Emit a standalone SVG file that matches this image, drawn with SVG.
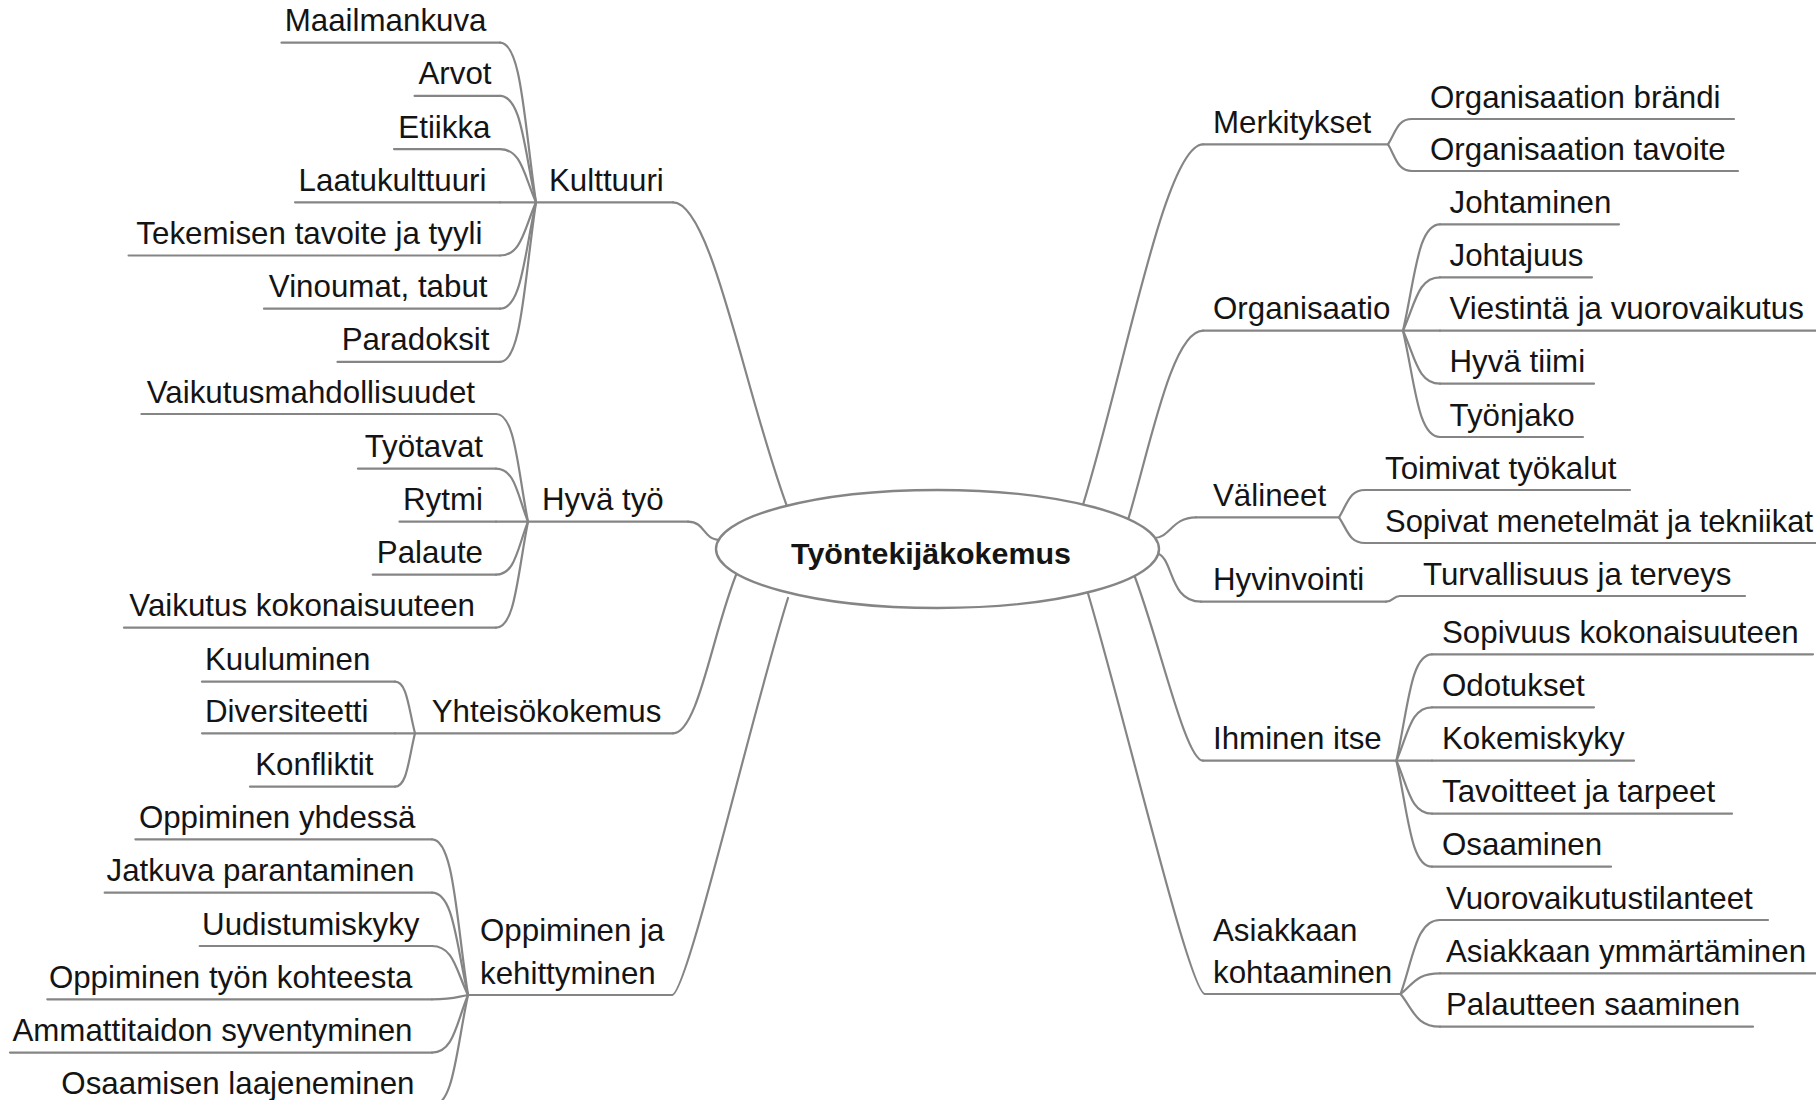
<svg xmlns="http://www.w3.org/2000/svg" width="1816" height="1100" viewBox="0 0 1816 1100">
<style>
.t{font-family:"Liberation Sans",Arial,sans-serif;font-size:31.3px;fill:#141414}
.e{text-anchor:end}
.b{font-weight:bold;font-size:30.4px;text-anchor:middle}
.c,.u{fill:none;stroke:#858585;stroke-width:2.2;stroke-linecap:round}
</style>
<rect width="1816" height="1100" fill="#ffffff"/>
<g id="connectors">
<path class="c" d="M788,509 C745,395 712,202.3 673,202.3"/>
<path class="c" d="M721,540 C702,540 706,521.7 688,521.7"/>
<path class="c" d="M738,570 C713,629 698.5,733.3 673,733.3"/>
<path class="c" d="M788,598 C750,720 687,995 672,995"/>
<path class="c" d="M1082,508 C1125,370 1165,144.3 1203,144.3"/>
<path class="c" d="M1128,520 C1150,447 1172,330.7 1203,330.7"/>
<path class="c" d="M1154,538 C1170,538 1172,517.3 1196,517.3"/>
<path class="c" d="M1156,553 C1174,556 1168,601.7 1201,601.7"/>
<path class="c" d="M1133,572 C1158,635 1185,760.7 1203,760.7"/>
<path class="c" d="M1087,590 C1125.7,720 1189.7,994 1205,994"/>
<path class="c" d="M536,202.3 C524.1,122.5 521.6,42.7 500,42.7"/>
<path class="c" d="M536,202.3 C524.1,149.1 521.6,95.9 500,95.9"/>
<path class="c" d="M536,202.3 C524.1,175.7 521.6,149.1 500,149.1"/>
<path class="c" d="M536,202.3 L500,202.3"/>
<path class="c" d="M536,202.3 C524.1,228.9 521.6,255.5 500,255.5"/>
<path class="c" d="M536,202.3 C524.1,255.5 521.6,308.7 500,308.7"/>
<path class="c" d="M536,202.3 C524.1,282.1 521.6,361.9 500,361.9"/>
<path class="c" d="M528,521.7 C517.4,467.9 515.2,414 496,414"/>
<path class="c" d="M528,521.7 C517.4,495.2 515.2,468.7 496,468.7"/>
<path class="c" d="M528,521.7 L496,521.7"/>
<path class="c" d="M528,521.7 C517.4,548.2 515.2,574.7 496,574.7"/>
<path class="c" d="M528,521.7 C517.4,574.7 515.2,627.7 496,627.7"/>
<path class="c" d="M415,733.3 C408.4,707.5 407,681.7 395,681.7"/>
<path class="c" d="M415,733.3 L395,733.3"/>
<path class="c" d="M415,733.3 C408.4,760 407,786.7 395,786.7"/>
<path class="c" d="M468,995 C456.1,917.2 453.6,839.3 432,839.3"/>
<path class="c" d="M468,995 C456.1,943.9 453.6,892.7 432,892.7"/>
<path class="c" d="M468,995 C456.1,970.5 453.6,946 432,946"/>
<path class="c" d="M468,995 C456.1,997 453.6,999.3 432,999.3"/>
<path class="c" d="M468,995 C456.1,1023.8 453.6,1052.6 432,1052.6"/>
<path class="c" d="M468,995 C456.1,1050.5 453.6,1105.9 432,1105.9"/>
<path class="c" d="M1388,144.3 C1395.9,131.7 1397.6,119 1412,119"/>
<path class="c" d="M1388,144.3 C1395.9,157.7 1397.6,171 1412,171"/>
<path class="c" d="M1403,330.7 C1415.2,277.5 1417.8,224.3 1440,224.3"/>
<path class="c" d="M1403,330.7 C1415.2,304 1417.8,277.3 1440,277.3"/>
<path class="c" d="M1403,330.7 L1440,330.7"/>
<path class="c" d="M1403,330.7 C1415.2,357.2 1417.8,383.7 1440,383.7"/>
<path class="c" d="M1403,330.7 C1415.2,383.9 1417.8,437 1440,437"/>
<path class="c" d="M1339,517.3 C1347.6,503.7 1349.4,490 1365,490"/>
<path class="c" d="M1339,517.3 C1347.6,530.2 1349.4,543 1365,543"/>
<path class="c" d="M1386,601.7 C1393,601.7 1393,596 1400,596"/>
<path class="c" d="M1396.4,760.7 C1408.2,707.5 1410.6,654.3 1432,654.3"/>
<path class="c" d="M1396.4,760.7 C1408.2,734 1410.6,707.3 1432,707.3"/>
<path class="c" d="M1396.4,760.7 L1432,760.7"/>
<path class="c" d="M1396.4,760.7 C1408.2,787.2 1410.6,813.7 1432,813.7"/>
<path class="c" d="M1396.4,760.7 C1408.2,813.7 1410.6,866.7 1432,866.7"/>
<path class="c" d="M1400.6,994 C1413.6,957 1416.4,920 1440,920"/>
<path class="c" d="M1400.6,994 C1413.6,983.7 1416.4,973.3 1440,973.3"/>
<path class="c" d="M1400.6,994 C1413.6,1010.4 1416.4,1026.7 1440,1026.7"/>
</g>
<g id="center">
<ellipse cx="937.5" cy="549" rx="221.5" ry="59" fill="#ffffff" stroke="#858585" stroke-width="2.4"/>
<text class="t b" x="931" y="564">Työntekijäkokemus</text>
</g>
<g id="kulttuuri"><line class="u" x1="536" y1="202.3" x2="673" y2="202.3"/><text class="t" x="549" y="190.8">Kulttuuri</text></g>
<g id="maailmankuva"><line class="u" x1="281.5" y1="42.7" x2="500" y2="42.7"/><text class="t e" x="486.5" y="31.2">Maailmankuva</text></g>
<g id="arvot"><line class="u" x1="414.6" y1="95.9" x2="500" y2="95.9"/><text class="t e" x="491.5" y="84.4">Arvot</text></g>
<g id="etiikka"><line class="u" x1="394" y1="149.1" x2="500" y2="149.1"/><text class="t e" x="490.5" y="137.6">Etiikka</text></g>
<g id="laatukulttuuri"><line class="u" x1="295" y1="202.3" x2="500" y2="202.3"/><text class="t e" x="486.5" y="190.8">Laatukulttuuri</text></g>
<g id="tekemisen"><line class="u" x1="128.6" y1="255.5" x2="500" y2="255.5"/><text class="t e" x="482.5" y="244">Tekemisen tavoite ja tyyli</text></g>
<g id="vinoumat"><line class="u" x1="264" y1="308.7" x2="500" y2="308.7"/><text class="t e" x="487.5" y="297.2">Vinoumat, tabut</text></g>
<g id="paradoksit"><line class="u" x1="337.5" y1="361.9" x2="500" y2="361.9"/><text class="t e" x="489.5" y="350.4">Paradoksit</text></g>
<g id="hyva-tyo"><line class="u" x1="528" y1="521.7" x2="688" y2="521.7"/><text class="t" x="542" y="510.2">Hyvä työ</text></g>
<g id="vaikutusmahdollisuudet"><line class="u" x1="141.4" y1="414" x2="496" y2="414"/><text class="t e" x="475" y="402.5">Vaikutusmahdollisuudet</text></g>
<g id="tyotavat"><line class="u" x1="358" y1="468.7" x2="496" y2="468.7"/><text class="t e" x="483" y="457.2">Työtavat</text></g>
<g id="rytmi"><line class="u" x1="399.5" y1="521.7" x2="496" y2="521.7"/><text class="t e" x="483" y="510.2">Rytmi</text></g>
<g id="palaute"><line class="u" x1="372.8" y1="574.7" x2="496" y2="574.7"/><text class="t e" x="483" y="563.2">Palaute</text></g>
<g id="vaikutus-kokonaisuuteen"><line class="u" x1="124" y1="627.7" x2="496" y2="627.7"/><text class="t e" x="475" y="616.2">Vaikutus kokonaisuuteen</text></g>
<g id="yhteisokokemus"><line class="u" x1="415" y1="733.3" x2="673" y2="733.3"/><text class="t" x="431.7" y="721.8">Yhteisökokemus</text></g>
<g id="kuuluminen"><line class="u" x1="202" y1="681.7" x2="395" y2="681.7"/><text class="t" x="205" y="670.2">Kuuluminen</text></g>
<g id="diversiteetti"><line class="u" x1="202" y1="733.3" x2="395" y2="733.3"/><text class="t" x="205" y="721.8">Diversiteetti</text></g>
<g id="konfliktit"><line class="u" x1="250" y1="786.7" x2="395" y2="786.7"/><text class="t e" x="373.5" y="775.2">Konfliktit</text></g>
<g id="oppiminen-ja-kehittyminen"><line class="u" x1="468" y1="995" x2="672" y2="995"/><text class="t" x="480" y="941">Oppiminen ja</text><text class="t" x="480" y="983.5">kehittyminen</text></g>
<g id="oppiminen-yhdessa"><line class="u" x1="135.4" y1="839.3" x2="432" y2="839.3"/><text class="t e" x="415.5" y="827.8">Oppiminen yhdessä</text></g>
<g id="jatkuva-parantaminen"><line class="u" x1="104.7" y1="892.7" x2="432" y2="892.7"/><text class="t e" x="414.5" y="881.2">Jatkuva parantaminen</text></g>
<g id="uudistumiskyky"><line class="u" x1="199.7" y1="946" x2="432" y2="946"/><text class="t e" x="419.5" y="934.5">Uudistumiskyky</text></g>
<g id="oppiminen-tyon-kohteesta"><line class="u" x1="47.3" y1="999.3" x2="432" y2="999.3"/><text class="t e" x="412.5" y="987.8">Oppiminen työn kohteesta</text></g>
<g id="ammattitaidon-syventyminen"><line class="u" x1="10" y1="1052.6" x2="432" y2="1052.6"/><text class="t e" x="412.5" y="1041.1">Ammattitaidon syventyminen</text></g>
<g id="osaamisen-laajeneminen"><line class="u" x1="60" y1="1105.9" x2="432" y2="1105.9"/><text class="t e" x="414.5" y="1094.4">Osaamisen laajeneminen</text></g>
<g id="merkitykset"><line class="u" x1="1203" y1="144.3" x2="1388" y2="144.3"/><text class="t" x="1213" y="132.8">Merkitykset</text></g>
<g id="organisaation-brandi"><line class="u" x1="1412" y1="119" x2="1734" y2="119"/><text class="t" x="1430" y="107.5">Organisaation brändi</text></g>
<g id="organisaation-tavoite"><line class="u" x1="1412" y1="171" x2="1738" y2="171"/><text class="t" x="1430" y="159.5">Organisaation tavoite</text></g>
<g id="organisaatio"><line class="u" x1="1203" y1="330.7" x2="1403" y2="330.7"/><text class="t" x="1213" y="319.2">Organisaatio</text></g>
<g id="johtaminen"><line class="u" x1="1440" y1="224.3" x2="1619" y2="224.3"/><text class="t" x="1449.5" y="212.8">Johtaminen</text></g>
<g id="johtajuus"><line class="u" x1="1440" y1="277.3" x2="1592" y2="277.3"/><text class="t" x="1449.5" y="265.8">Johtajuus</text></g>
<g id="viestinta"><line class="u" x1="1440" y1="330.7" x2="1820" y2="330.7"/><text class="t" x="1449.5" y="319.2">Viestintä ja vuorovaikutus</text></g>
<g id="hyva-tiimi"><line class="u" x1="1440" y1="383.7" x2="1594" y2="383.7"/><text class="t" x="1449.5" y="372.2">Hyvä tiimi</text></g>
<g id="tyonjako"><line class="u" x1="1440" y1="437" x2="1583" y2="437"/><text class="t" x="1449.5" y="425.5">Työnjako</text></g>
<g id="valineet"><line class="u" x1="1196" y1="517.3" x2="1339" y2="517.3"/><text class="t" x="1213" y="505.8">Välineet</text></g>
<g id="toimivat-tyokalut"><line class="u" x1="1365" y1="490" x2="1630" y2="490"/><text class="t" x="1385" y="478.5">Toimivat työkalut</text></g>
<g id="sopivat-menetelmat"><line class="u" x1="1365" y1="543" x2="1820" y2="543"/><text class="t" x="1385" y="531.5" textLength="428" lengthAdjust="spacingAndGlyphs">Sopivat menetelmät ja tekniikat</text></g>
<g id="hyvinvointi"><line class="u" x1="1201" y1="601.7" x2="1386" y2="601.7"/><text class="t" x="1213" y="590.2">Hyvinvointi</text></g>
<g id="turvallisuus"><line class="u" x1="1400" y1="596" x2="1745" y2="596"/><text class="t" x="1423" y="584.5">Turvallisuus ja terveys</text></g>
<g id="ihminen-itse"><line class="u" x1="1203" y1="760.7" x2="1396.4" y2="760.7"/><text class="t" x="1213" y="749.2">Ihminen itse</text></g>
<g id="sopivuus"><line class="u" x1="1432" y1="654.3" x2="1813" y2="654.3"/><text class="t" x="1442" y="642.8">Sopivuus kokonaisuuteen</text></g>
<g id="odotukset"><line class="u" x1="1432" y1="707.3" x2="1594" y2="707.3"/><text class="t" x="1442" y="695.8">Odotukset</text></g>
<g id="kokemiskyky"><line class="u" x1="1432" y1="760.7" x2="1634" y2="760.7"/><text class="t" x="1442" y="749.2">Kokemiskyky</text></g>
<g id="tavoitteet"><line class="u" x1="1432" y1="813.7" x2="1732" y2="813.7"/><text class="t" x="1442" y="802.2">Tavoitteet ja tarpeet</text></g>
<g id="osaaminen"><line class="u" x1="1432" y1="866.7" x2="1611" y2="866.7"/><text class="t" x="1442" y="855.2">Osaaminen</text></g>
<g id="asiakkaan-kohtaaminen"><line class="u" x1="1205" y1="994" x2="1400.6" y2="994"/><text class="t" x="1213" y="941">Asiakkaan</text><text class="t" x="1213" y="983">kohtaaminen</text></g>
<g id="vuorovaikutustilanteet"><line class="u" x1="1440" y1="920" x2="1768" y2="920"/><text class="t" x="1446" y="908.5">Vuorovaikutustilanteet</text></g>
<g id="asiakkaan-ymmartaminen"><line class="u" x1="1440" y1="973.3" x2="1820" y2="973.3"/><text class="t" x="1446" y="961.8">Asiakkaan ymmärtäminen</text></g>
<g id="palautteen-saaminen"><line class="u" x1="1440" y1="1026.7" x2="1753" y2="1026.7"/><text class="t" x="1446" y="1015.2">Palautteen saaminen</text></g>
</svg>
